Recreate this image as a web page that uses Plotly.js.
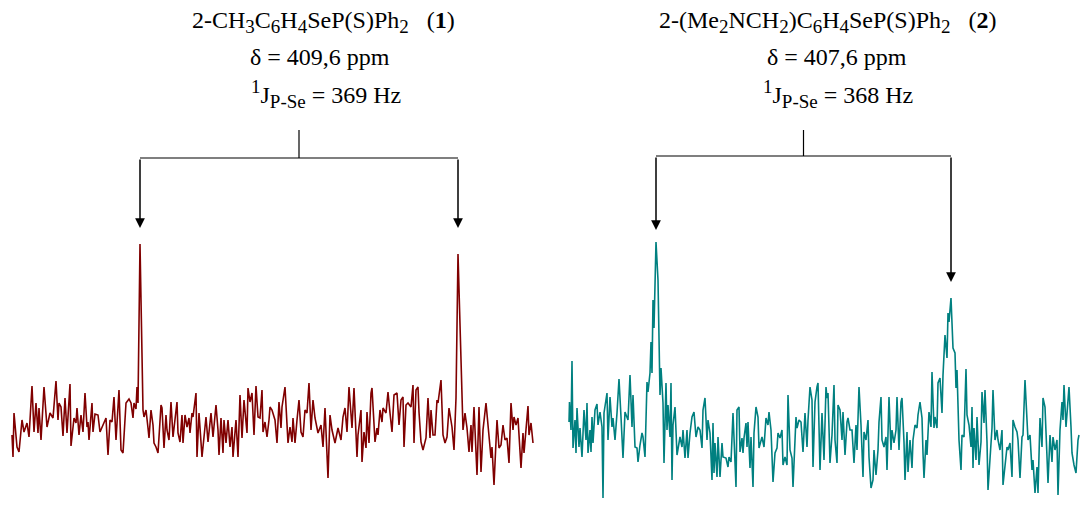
<!DOCTYPE html>
<html>
<head>
<meta charset="utf-8">
<script src="https://cdn.plot.ly/plotly-3.0.1.min.js"></script>
<style>html,body{margin:0;padding:0;background:#fff;}#chart{width:1080px;height:505px;}</style>
</head>
<body>
<div id="chart"></div>
<script>
// Spectrum 1: [channel, intensity]
const spectrum1 = [[12,-15],[13,-37],[14,7],[17,-27],[19,-32],[22,0],[24,-12],[27,-3],[29,-17],[32,34],[34,-12],[36,17],[38,-13],[39,12],[41,-20],[44,33],[47,-7],[50,7],[53,2],[56,39],[58,0],[59,17],[61,13],[63,-16],[65,22],[67,-13],[70,36],[71,-26],[74,2],[76,-3],[77,12],[79,-15],[81,5],[83,-12],[85,27],[87,-7],[88,-2],[89,-20],[92,17],[93,-12],[95,6],[98,5],[100,-12],[103,-5],[106,2],[108,-35],[110,0],[112,-2],[114,23],[116,-20],[119,30],[121,-30],[123,-33],[126,17],[129,21],[131,17],[133,2],[134,17],[136,11],[137,33],[138,17],[140,176],[143,10],[144,3],[146,10],[148,-8],[149,-18],[151,10],[153,-5],[154,-23],[156,-27],[158,-33],[161,15],[162,12],[164,-28],[166,5],[167,-10],[169,-20],[171,18],[173,-17],[175,0],[177,18],[178,-13],
[180,-22],[182,5],[183,-23],[185,5],[187,-7],[189,2],[190,-13],[192,7],[193,3],[196,27],[197,-37],[199,7],[202,-37],[206,3],[208,-22],[211,7],[213,-17],[216,15],[218,-10],[219,-35],[221,2],[223,-33],[224,0],[226,-23],[228,0],[230,-27],[232,-7],[233,-37],[236,0],[238,-37],[240,25],[242,-18],[244,20],[247,-13],[248,32],[250,18],[252,27],[254,-15],[256,34],[258,3],[260,2],[262,30],[263,-12],[265,-2],[267,-17],[269,0],[270,13],[272,10],[275,0],[277,-23],[279,18],[281,-8],[282,13],[285,33],[287,0],[288,-23],[290,-7],[292,-22],[293,2],[295,-23],[297,0],[299,20],[301,-12],[303,-17],[305,10],[307,7],[309,37],[311,-10],[313,20],[315,2],[318,-13],[321,-5],[323,-27],[325,12],[328,-58],[330,5],[332,-10],[335,-23],[338,-8],[341,-20],[343,3],[345,12],[347,-12],[349,33],
[352,-8],[354,32],[357,-37],[358,-15],[361,10],[362,-42],[364,-12],[366,-28],[367,8],[369,-23],[371,27],[372,32],[375,-22],[377,-8],[378,-15],[380,10],[382,-2],[383,12],[386,7],[388,28],[390,7],[392,-12],[394,25],[397,27],[399,-5],[401,20],[403,23],[404,-27],[406,15],[408,17],[411,13],[413,35],[414,-23],[416,30],[418,33],[419,8],[421,-22],[423,-30],[426,-18],[428,22],[430,-18],[431,10],[433,-15],[435,-15],[437,20],[438,17],[441,40],[443,-15],[445,-23],[447,-17],[449,12],[452,-7],[454,-30],[456,22],[458,166],[462,7],[463,-10],[465,7],[467,-8],[469,-32],[471,-5],[472,-32],[474,13],[477,-55],[479,13],[481,-52],[483,-10],[486,17],[488,-5],[491,-38],[492,-27],[494,-65],[497,0],[499,-28],[501,-25],[503,-5],[505,-20],[507,-18],[509,-43],[511,17],[513,-10],[514,3],[516,-5],[518,2],[521,-48],[523,-13],[524,-33],[526,-12],[528,14],[529,-15],[531,-3],[533,-23]];

// Spectrum 2: [channel, intensity]
const spectrum2 = [[569,-2],[569.5,18],[571,-10],[572,59],[573,-28],[575,0],[576,-33],[577,12],[579,-27],[580,-8],[582,-37],[584,10],[586,-20],[587,17],[588,-33],[590,-10],[591,-32],[592,3],[593,-23],[595,10],[597,16],[598,-5],[600,8],[602,-7],[603,-78],[604,7],[607,27],[608,-20],[610,23],[612,-7],[613,2],[615,-20],[617,7],[619,41],[621,3],[623,-38],[625,8],[627,3],[628,0],[630,45],[632,-7],[633,25],[635,-27],[637,-28],[638,-42],[640,-25],[642,-13],[643,-17],[645,-37],[647,38],[648,28],[650,47],[651,78],[652,47],[653,120],[654,92],[656,178],[658,140],[659,60],[660,25],[661,52],[663,17],[664,-43],[666,37],[667,-10],[668,15],[670,-17],[671,37],[672,-60],[673,-5],[675,13],[677,-35],[680,-17],[682,-27],[683,-10],[685,-38],[687,-10],[688,-38],[690,-13],[692,3],[694,8],[696,-17],[698,-7],[700,-10],[702,-28],[703,10],[705,22],[707,-20],[708,0],[710,-13],[712,-60],[713,-3],[714,-53],[715,-23],[717,-57],[718,-17],[720,-57],[722,-23],[723,-37],[726,-38],[728,-47],[729,-37],[731,-42],[733,7],[736,-67],[737,10],[739,13],[740,-32],[742,-18],[743,-33],[744,-18],[746,-3],[747,-27],[748,-2],[750,-48],[751,-17],[753,-67],[754,-13],[756,13],[758,3],[759,-28],[762,-17],[764,-27],[766,2],[768,-5],[769,8],[771,-10],[773,-62],[775,-33],[777,-28],[778,-13],[780,-18],[782,-10],[783,-45],[785,-37],[787,-45],[788,25],[790,-30],[792,-38],[793,-67],[796,3],[797,-8],[799,0],[801,-2],[803,-32],[805,7],[807,-27],[808,0],[810,33],[812,20],[813,-47],[815,18],[817,33],[818,37],[820,-50],[822,7],[824,-40],[826,33],[827,22],[828,27],[830,-43],[832,-15],[834,35],[835,-20],[837,-43],[838,15],[840,10],[842,-20],[843,8],[845,-35],[847,-2],[848,2],[850,-10],[852,-10],[854,-43],[856,-5],[857,-30],[859,33],[861,-5],[863,-57],[864,-12],[866,-20],[868,0],[869,-37],[871,-68],[873,-60],[874,-30],[876,-55],[878,-30],[879,-2],[881,23],[882,-20],[884,-27],[886,-17],[887,-50],[889,23],[891,-30],[892,-10],[894,-23],[896,-10],[897,23],[899,-30],[901,18],[902,22],[904,-22],
[905,-60],[907,-12],[908,-52],[910,-20],[912,-48],[913,-20],[915,-5],[917,-8],[918,5],[920,18],[922,2],[923,-33],[924,-58],[926,-20],[927,-35],[929,8],[931,-7],[932,48],[934,-8],[935,3],[937,-8],[938,37],[940,42],[942,7],[943,45],[945,85],[947,62],[948,107],[949,98],[951,122],[952,97],[953,72],[955,67],[956,32],[957,50],[959,-20],[961,-50],[962,-15],[964,-17],[966,51],[967,5],[969,-5],[971,-27],[972,13],[973,-48],[974,-8],[976,-40],[977,3],[979,-45],[981,-22],[982,28],[984,-3],[985,30],[987,-22],[988,-70],[990,-37],[992,-8],[993,30],[995,-20],[997,-10],[998,-20],[1000,-30],[1002,-10],[1003,-65],[1005,-43],[1007,-27],[1008,-30],[1010,-23],[1012,-57],[1013,0],[1015,-7],[1017,-12],[1018,-20],[1020,-58],[1022,-17],[1023,-15],[1025,40],[1027,-3],[1028,-20],[1030,-15],[1032,-50],[1033,-40],[1035,-73],[1037,-47],[1038,-73],[1040,2],[1042,-27],[1043,22],[1045,13],[1047,-37],[1048,-63],[1050,-15],[1052,-42],[1053,-17],[1055,-30],[1057,-20],[1058,-75],[1060,-10],[1062,18],[1063,0],[1064,35],[1066,-7],[1068,27],[1069,33],[1071,-7],[1072,-33],[1074,-45],[1076,-53],[1078,-20],[1079,-15]];

// Peak positions (channel) of each doublet
const peaks1 = [140, 458];
const peaks2 = [656, 951];
const peakTips1 = [192, 192];
const peakTips2 = [190, 138];

function sb(t) { return '<sub><span style="font-size:19px">' + t + '</span></sub>'; }
function sp(t) { return '<sup><span style="font-size:19px">' + t + '</span></sup>'; }

const labels1 = ["2-CH" + sb("3") + "C" + sb("6") + "H" + sb("4") + "SeP(S)Ph" + sb("2") + "\u00a0\u00a0\u00a0(<b>1</b>)", "\u03b4 = 409,6 ppm", sp("1") + "J" + sb("P-Se") + " = 369 Hz"];
const labels2 = ["2-(Me" + sb("2") + "NCH" + sb("2") + ")C" + sb("6") + "H" + sb("4") + "SeP(S)Ph" + sb("2") + "\u00a0\u00a0\u00a0(<b>2</b>)", "\u03b4 = 407,6 ppm", sp("1") + "J" + sb("P-Se") + " = 368 Hz"];
const labelSizes = [24, 24, 24];

const traces = [
  {x: spectrum1.map(p => p[0]), y: spectrum1.map(p => p[1]), type: 'scatter', mode: 'lines',
   line: {color: '#800000', width: 1.6}, hoverinfo: 'skip'},
  {x: spectrum2.map(p => p[0]), y: spectrum2.map(p => p[1]), type: 'scatter', mode: 'lines',
   line: {color: '#008080', width: 1.6}, hoverinfo: 'skip'}
];

const bracketY1 = 262, bracketY2 = 264, stemTop = 290;

const shapes = [];
const annotations = [];
function addBracket(peaks, tips, by) {
  const mid = (peaks[0] + peaks[1]) / 2;
  shapes.push({type: 'line', xref: 'x', yref: 'y', x0: peaks[0], x1: peaks[1], y0: by, y1: by, line: {color: '#000', width: 1.2}});
  shapes.push({type: 'line', xref: 'x', yref: 'y', x0: mid, x1: mid, y0: by, y1: stemTop, line: {color: '#000', width: 1.2}});
  peaks.forEach((p, i) => {
    annotations.push({x: p, y: tips[i], xref: 'x', yref: 'y', ax: p, ay: by, axref: 'x', ayref: 'y',
      text: '', showarrow: true, arrowhead: 2, arrowsize: 1.3, arrowwidth: 1.5, arrowcolor: '#000'});
  });
}
addBracket(peaks1, peakTips1, bracketY1);
addBracket(peaks2, peakTips2, bracketY2);

function addLabels(labels, xs) {
  const ys = [22, 57, 94];
  labels.forEach((t, i) => {
    annotations.push({text: t, xref: 'paper', yref: 'paper', x: xs[i] / 1080, y: 1 - ys[i] / 505,
      xanchor: 'center', yanchor: 'middle', showarrow: false,
      font: {family: 'Liberation Serif, Times New Roman, serif', size: labelSizes[i], color: '#000'}});
  });
}
addLabels(labels1, [323, 320, 326]);
addLabels(labels2, [828, 837, 838]);

const layout = {
  width: 1080, height: 505,
  margin: {l: 0, r: 0, t: 0, b: 0},
  paper_bgcolor: '#fff', plot_bgcolor: '#fff',
  showlegend: false,
  xaxis: {range: [0, 1080], visible: false, fixedrange: true},
  yaxis: {range: [-85, 420], visible: false, fixedrange: true},
  shapes: shapes,
  annotations: annotations
};

Plotly.newPlot('chart', traces, layout, {staticPlot: true, displayModeBar: false});
</script>
</body>
</html>
